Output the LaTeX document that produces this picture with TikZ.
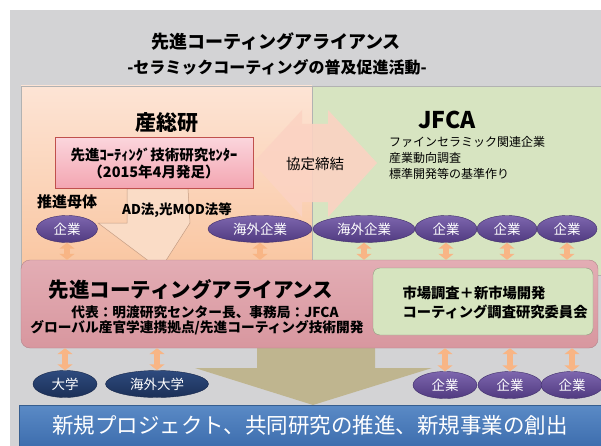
\documentclass[tikz,border=0pt]{standalone}
\usepackage{fontspec}
\setmainfont{Noto Sans CJK JP}
\usetikzlibrary{arrows.meta, shapes.geometric, calc}

\definecolor{bggray}{HTML}{D3D3D5}
\definecolor{aisttop}{HTML}{FDE4D5}
\definecolor{aistbot}{HTML}{F9C59F}
\definecolor{jfcagreen}{HTML}{D7E4C1}
\definecolor{bigarrow}{HTML}{FBD3C3}
\definecolor{centertop}{HTML}{FBD5DC}
\definecolor{centerbot}{HTML}{F3A5B1}
\definecolor{centeredge}{HTML}{C0504D}
\definecolor{funnel}{HTML}{FADCC6}
\definecolor{funneledge}{HTML}{C49C82}
\definecolor{purpletop}{HTML}{7D66AE}
\definecolor{purplebot}{HTML}{503A80}
\definecolor{purpleedge}{HTML}{3F2D6A}
\definecolor{navytop}{HTML}{2E4A7E}
\definecolor{navybot}{HTML}{1B2F57}
\definecolor{navyedge}{HTML}{16264A}
\definecolor{linkorange}{HTML}{F8B585}
\definecolor{khaki}{HTML}{BFB58F}
\definecolor{allytop}{HTML}{E3ADB4}
\definecolor{allybot}{HTML}{D8979F}
\definecolor{allyedge}{HTML}{B3838A}
\definecolor{surveygreen}{HTML}{D6E4BF}
\definecolor{surveyedge}{HTML}{8E9A80}
\definecolor{bannertop}{HTML}{5A8AC6}
\definecolor{bannerbot}{HTML}{3E6EAE}
\definecolor{banneredge}{HTML}{375E8F}

\begin{document}
\begin{tikzpicture}
        [x=1pt, y=-1pt,
        panel/.style={draw=black!30, inner sep=0pt},
        corp/.style={ellipse, draw=purpleedge, top color=purpletop, bottom color=purplebot,
          text=white, inner sep=0pt, minimum height=27pt, font=\fontsize{13.5}{13.5}\selectfont},
        univ/.style={corp, draw=navyedge, top color=navytop, bottom color=navybot},
        link/.style={line width=6pt, draw=linkorange,
          {Triangle[width=15pt,length=6pt]}-{Triangle[width=15pt,length=6pt]}},
        heading/.style={font=\fontsize{#1}{#1}\selectfont\bfseries}]
        \useasboundingbox (0,0) rectangle (601,446);
        \fill[bggray] (10,10) rectangle (601,446);
        % title
        \node (title) at (276,42) [heading=18] {先進コーティングアライアンス};
        \node (subtitle) at (277,67) [heading=16] {-セラミックコーティングの普及促進活動-};
        % two partners
        \node (aist) at (166.5,180.5) [panel, top color=aisttop, bottom color=aistbot,
          minimum width=291pt, minimum height=189pt] {};
        \node (jfca) at (456.5,180.5) [panel, fill=jfcagreen,
          minimum width=289pt, minimum height=189pt] {};
        \fill[bigarrow, opacity=0.9] (253,163) -- (302,110) -- (302,124) -- (328,124)
          -- (328,110) -- (377,163) -- (328,217) -- (328,202) -- (302,202) -- (302,217) -- cycle;
        \node (accord) at (315,164) [font=\fontsize{14.5}{14.5}\selectfont] {協定締結};
        \node (aistname) at (167,123) [heading=21] {産総研};
        \filldraw[fill=funnel, draw=funneledge, line width=0.5pt] (127,189) -- (188,189)
          -- (190,223) -- (165,262) -- (150,262) -- (98,223) -- (127,223) -- cycle;
        \node (center) at (154,163) [draw=centeredge, top color=centertop, bottom color=centerbot,
          minimum width=198pt, minimum height=51pt, inner sep=0pt, align=center,
          font=\fontsize{14.5}{17}\selectfont\bfseries]
          {先進ｺｰﾃｨﾝｸﾞ技術研究ｾﾝﾀｰ\\（2015年4月発足）};
        \node (base) at (67,202) [heading=15] {推進母体};
        \node (methods) at (177,210) [heading=13.5] {AD法,光MOD法等};
        \node (jfcaname) at (447,120) [heading=23] {JFCA};
        \node (jfcatasks) at (389,136) [anchor=north west, inner sep=0pt, align=left,
          font=\fontsize{12}{16}\selectfont]
          {ファインセラミック関連企業\\産業動向調査\\標準開発等の基準作り};
        % member companies
        \node (c1) at (67,229) [corp, minimum width=61pt] {企業};
        \node (c2) at (260,229) [corp, minimum width=104pt] {海外企業};
        \node (c3) at (364,229) [corp, minimum width=102pt] {海外企業};
        \node (c4) at (446,229) [corp, minimum width=62pt] {企業};
        \node (c5) at (507,229) [corp, minimum width=60pt] {企業};
        \node (c6) at (567,229) [corp, minimum width=60pt] {企業};
        % outcome arrow
        \fill[khaki] (257,348) -- (375,348) -- (375,368) -- (432,368) -- (313,405)
          -- (195,368) -- (257,368) -- cycle;
        % alliance
        \node (ally) at (309.5,304) [draw=allyedge, top color=allytop, bottom color=allybot,
          rounded corners=9pt, minimum width=577pt, minimum height=88pt] {};
        \node (allyname) at (191,290) [heading=20.5] {先進コーティングアライアンス};
        \node (allyrep) at (205,312) [heading=13.7] {代表：明渡研究センター長、事務局：JFCA};
        \node (allyhub) at (197,328) [heading=13.7] {グローバル産官学連携拠点/先進コーティング技術開発};
        \node (survey) at (483,301.5) [draw=surveyedge, fill=surveygreen, rounded corners=7pt,
          minimum width=220pt, minimum height=67pt] {};
        \node (surveytext) at (399,302.5) [anchor=west, align=left,
          font=\fontsize{14.3}{19}\selectfont\bfseries]
          {市場調査＋新市場開発\\コーティング調査研究委員会};
        \foreach \c in {c1,c2,c3,c4,c5,c6}
          \draw[link] (\c.south) -- (\c.south |- ally.north);
        % universities and companies below
        \node (u1) at (65,384) [univ, minimum width=64pt] {大学};
        \node (u2) at (157,384) [univ, minimum width=103pt] {海外大学};
        \node (d1) at (445,385) [corp, minimum width=64pt] {企業};
        \node (d2) at (510,385) [corp, minimum width=64pt] {企業};
        \node (d3) at (572,385) [corp, minimum width=62pt] {企業};
        \foreach \c in {u1,u2,d1,d2,d3}
          \draw[link] (\c.north |- ally.south) -- (\c.north);
        % result
        \node (outcome) at (310,425.5) [draw=banneredge, top color=bannertop, bottom color=bannerbot,
          minimum width=582pt, minimum height=41pt, text=white,
          font=\fontsize{21.5}{21.5}\selectfont] {新規プロジェクト、共同研究の推進、新規事業の創出};
\end{tikzpicture}
\end{document}
